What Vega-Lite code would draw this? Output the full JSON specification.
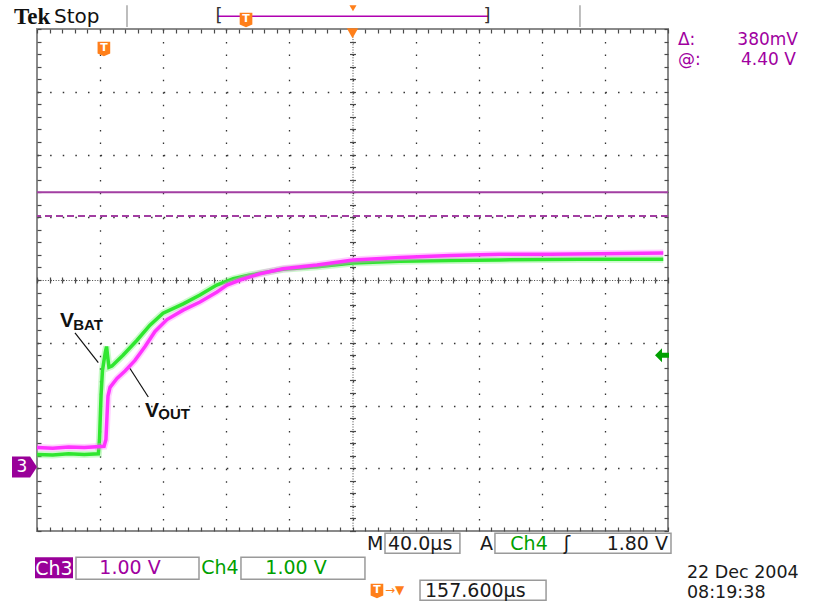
{
  "$schema": "https://vega.github.io/schema/vega-lite/v6.json",
  "width": 631,
  "height": 502,
  "autosize": "none",
  "padding": {"left": 37, "top": 29, "right": 151, "bottom": 72},
  "background": "white",
  "config": {
    "view": {"stroke": "#8a8a8a", "strokeWidth": 2},
    "axis": {"labels": false, "domain": false, "grid": false, "ticks": true, "tickColor": "#4a4a4a", "tickWidth": 1.2, "tickSize": 4}
  },
  "datasets": {
    "traces": [
      {"ch": "Ch4", "t": 0, "v": 0.22},
      {"ch": "Ch4", "t": 10, "v": 0.21},
      {"ch": "Ch4", "t": 20, "v": 0.23},
      {"ch": "Ch4", "t": 30, "v": 0.22},
      {"ch": "Ch4", "t": 38.9, "v": 0.23},
      {"ch": "Ch4", "t": 39.6, "v": 0.45},
      {"ch": "Ch4", "t": 40.6, "v": 1.16},
      {"ch": "Ch4", "t": 41.5, "v": 1.56},
      {"ch": "Ch4", "t": 42.5, "v": 1.72},
      {"ch": "Ch4", "t": 43.4, "v": 1.86},
      {"ch": "Ch4", "t": 44.1, "v": 1.94},
      {"ch": "Ch4", "t": 44.7, "v": 1.8},
      {"ch": "Ch4", "t": 45.6, "v": 1.61},
      {"ch": "Ch4", "t": 47.5, "v": 1.63},
      {"ch": "Ch4", "t": 54.5, "v": 1.8},
      {"ch": "Ch4", "t": 63.4, "v": 2.04},
      {"ch": "Ch4", "t": 71.6, "v": 2.28},
      {"ch": "Ch4", "t": 79.9, "v": 2.47},
      {"ch": "Ch4", "t": 92.7, "v": 2.62},
      {"ch": "Ch4", "t": 103.3, "v": 2.76},
      {"ch": "Ch4", "t": 113.9, "v": 2.92},
      {"ch": "Ch4", "t": 124.4, "v": 3.02},
      {"ch": "Ch4", "t": 135, "v": 3.08},
      {"ch": "Ch4", "t": 155.9, "v": 3.17},
      {"ch": "Ch4", "t": 177.5, "v": 3.21},
      {"ch": "Ch4", "t": 200.3, "v": 3.27},
      {"ch": "Ch4", "t": 230.1, "v": 3.3},
      {"ch": "Ch4", "t": 261.8, "v": 3.31},
      {"ch": "Ch4", "t": 293.5, "v": 3.32},
      {"ch": "Ch4", "t": 344.2, "v": 3.33},
      {"ch": "Ch4", "t": 397, "v": 3.33},
      {"ch": "Ch3", "t": 0, "v": 0.33},
      {"ch": "Ch3", "t": 10, "v": 0.32},
      {"ch": "Ch3", "t": 20, "v": 0.34},
      {"ch": "Ch3", "t": 30, "v": 0.33},
      {"ch": "Ch3", "t": 42.5, "v": 0.35},
      {"ch": "Ch3", "t": 43.7, "v": 0.46},
      {"ch": "Ch3", "t": 44.4, "v": 0.84},
      {"ch": "Ch3", "t": 45.0, "v": 1.15},
      {"ch": "Ch3", "t": 46.3, "v": 1.29},
      {"ch": "Ch3", "t": 50.7, "v": 1.43},
      {"ch": "Ch3", "t": 55.8, "v": 1.55},
      {"ch": "Ch3", "t": 62.1, "v": 1.72},
      {"ch": "Ch3", "t": 68.5, "v": 1.94},
      {"ch": "Ch3", "t": 74.8, "v": 2.18},
      {"ch": "Ch3", "t": 82.4, "v": 2.37},
      {"ch": "Ch3", "t": 92.6, "v": 2.52},
      {"ch": "Ch3", "t": 103.3, "v": 2.65},
      {"ch": "Ch3", "t": 114.1, "v": 2.81},
      {"ch": "Ch3", "t": 120.4, "v": 2.92},
      {"ch": "Ch3", "t": 128.7, "v": 3.0},
      {"ch": "Ch3", "t": 141.4, "v": 3.1},
      {"ch": "Ch3", "t": 155.9, "v": 3.18},
      {"ch": "Ch3", "t": 177.5, "v": 3.24},
      {"ch": "Ch3", "t": 200.3, "v": 3.32},
      {"ch": "Ch3", "t": 230.1, "v": 3.36},
      {"ch": "Ch3", "t": 261.8, "v": 3.39},
      {"ch": "Ch3", "t": 293.5, "v": 3.41},
      {"ch": "Ch3", "t": 325.2, "v": 3.41},
      {"ch": "Ch3", "t": 356.9, "v": 3.42},
      {"ch": "Ch3", "t": 397, "v": 3.43}
    ]
  },
  "resolve": {"axis": {"x": "independent", "y": "independent"}},
  "layer": [
    {
      "data": {"name": "traces"},
      "mark": {"type": "point", "opacity": 0},
      "encoding": {
        "x": {"field": "t", "type": "quantitative", "scale": {"domain": [0, 400], "nice": false, "zero": false}, "title": null,
              "axis": {"orient": "bottom", "values": [40, 80, 120, 160, 200, 240, 280, 320, 360], "grid": true, "gridDash": [1.5, 11.05], "gridColor": "#333333", "gridWidth": 1.3, "ticks": false}},
        "y": {"field": "v", "type": "quantitative", "scale": {"domain": [-1, 7], "nice": false, "zero": false}, "title": null,
              "axis": {"orient": "left", "values": [0, 1, 2, 3, 4, 5, 6], "grid": true, "gridDash": [1.5, 11.12], "gridColor": "#333333", "gridWidth": 1.3, "ticks": false}}
      }
    },
    {
      "data": {"name": "traces"},
      "mark": {"type": "point", "opacity": 0},
      "encoding": {
        "x": {"field": "t", "type": "quantitative", "scale": {"domain": [0, 400], "nice": false, "zero": false}, "title": null,
              "axis": {"orient": "top", "offset": -502, "values": [0,8,16,24,32,40,48,56,64,72,80,88,96,104,112,120,128,136,144,152,160,168,176,184,192,200,208,216,224,232,240,248,256,264,272,280,288,296,304,312,320,328,336,344,352,360,368,376,384,392,400]}},
        "y": {"field": "v", "type": "quantitative", "scale": {"domain": [-1, 7], "nice": false, "zero": false}, "title": null,
              "axis": {"orient": "right", "offset": -631, "values": [-1,-0.8,-0.6,-0.4,-0.2,0,0.2,0.4,0.6,0.8,1,1.2,1.4,1.6,1.8,2,2.2,2.4,2.6,2.8,3,3.2,3.4,3.6,3.8,4,4.2,4.4,4.6,4.8,5,5.2,5.4,5.6,5.8,6,6.2,6.4,6.6,6.8,7]}}
      }
    },
    {
      "data": {"name": "traces"},
      "mark": {"type": "point", "opacity": 0},
      "encoding": {
        "x": {"field": "t", "type": "quantitative", "scale": {"domain": [0, 400], "nice": false, "zero": false}, "title": null,
              "axis": {"orient": "bottom", "offset": -502, "values": [0,8,16,24,32,40,48,56,64,72,80,88,96,104,112,120,128,136,144,152,160,168,176,184,192,200,208,216,224,232,240,248,256,264,272,280,288,296,304,312,320,328,336,344,352,360,368,376,384,392,400]}},
        "y": {"field": "v", "type": "quantitative", "scale": {"domain": [-1, 7], "nice": false, "zero": false}, "title": null,
              "axis": {"orient": "left", "offset": -631, "values": [-1,-0.8,-0.6,-0.4,-0.2,0,0.2,0.4,0.6,0.8,1,1.2,1.4,1.6,1.8,2,2.2,2.4,2.6,2.8,3,3.2,3.4,3.6,3.8,4,4.2,4.4,4.6,4.8,5,5.2,5.4,5.6,5.8,6,6.2,6.4,6.6,6.8,7]}}
      }
    },
    {
      "data": {"name": "traces"},
      "mark": {"type": "point", "opacity": 0},
      "encoding": {
        "x": {"field": "t", "type": "quantitative", "scale": {"domain": [0, 400], "nice": false, "zero": false}, "title": null,
              "axis": {"orient": "bottom", "offset": -251, "tickSize": 3, "domain": true, "domainColor": "#444444", "domainDash": [1, 1.6], "domainWidth": 1, "values": [0,8,16,24,32,40,48,56,64,72,80,88,96,104,112,120,128,136,144,152,160,168,176,184,192,200,208,216,224,232,240,248,256,264,272,280,288,296,304,312,320,328,336,344,352,360,368,376,384,392,400]}},
        "y": {"field": "v", "type": "quantitative", "scale": {"domain": [-1, 7], "nice": false, "zero": false}, "title": null,
              "axis": {"orient": "left", "offset": -315.5, "tickSize": 3, "domain": true, "domainColor": "#444444", "domainDash": [1, 1.6], "domainWidth": 1, "values": [-1,-0.8,-0.6,-0.4,-0.2,0,0.2,0.4,0.6,0.8,1,1.2,1.4,1.6,1.8,2,2.2,2.4,2.6,2.8,3,3.2,3.4,3.6,3.8,4,4.2,4.4,4.6,4.8,5,5.2,5.4,5.6,5.8,6,6.2,6.4,6.6,6.8,7]}}
      }
    },
    {
      "data": {"name": "traces"},
      "mark": {"type": "point", "opacity": 0},
      "encoding": {
        "x": {"field": "t", "type": "quantitative", "scale": {"domain": [0, 400], "nice": false, "zero": false}, "title": null,
              "axis": {"orient": "top", "offset": -251, "tickSize": 3, "values": [0,8,16,24,32,40,48,56,64,72,80,88,96,104,112,120,128,136,144,152,160,168,176,184,192,200,208,216,224,232,240,248,256,264,272,280,288,296,304,312,320,328,336,344,352,360,368,376,384,392,400]}},
        "y": {"field": "v", "type": "quantitative", "scale": {"domain": [-1, 7], "nice": false, "zero": false}, "title": null,
              "axis": {"orient": "right", "offset": -315.5, "tickSize": 3, "values": [-1,-0.8,-0.6,-0.4,-0.2,0,0.2,0.4,0.6,0.8,1,1.2,1.4,1.6,1.8,2,2.2,2.4,2.6,2.8,3,3.2,3.4,3.6,3.8,4,4.2,4.4,4.6,4.8,5,5.2,5.4,5.6,5.8,6,6.2,6.4,6.6,6.8,7]}}
      }
    },
    {
      "data": {"values": [{"cursor": "1", "v": 4.40}, {"cursor": "2", "v": 4.02}]},
      "mark": {"type": "rule", "color": "#a23ea2", "strokeWidth": 2},
      "encoding": {
        "y": {"field": "v", "type": "quantitative", "axis": null},
        "strokeDash": {"field": "cursor", "type": "nominal", "scale": {"domain": ["1", "2"], "range": [[1, 0], [7, 4]]}, "legend": null}
      }
    },
    {
      "data": {"name": "traces"},
      "transform": [{"filter": "datum.ch == 'Ch4'"}],
      "mark": {"type": "line", "color": "#6ef26e", "strokeWidth": 7, "opacity": 0.35},
      "encoding": {"x": {"field": "t", "type": "quantitative", "axis": null}, "y": {"field": "v", "type": "quantitative", "axis": null}}
    },
    {
      "data": {"name": "traces"},
      "transform": [{"filter": "datum.ch == 'Ch4'"}],
      "mark": {"type": "line", "color": "#2fe62f", "strokeWidth": 3.5},
      "encoding": {"x": {"field": "t", "type": "quantitative", "axis": null}, "y": {"field": "v", "type": "quantitative", "axis": null}}
    },
    {
      "data": {"name": "traces"},
      "transform": [{"filter": "datum.ch == 'Ch3'"}],
      "mark": {"type": "line", "color": "#ff77ff", "strokeWidth": 7, "opacity": 0.35},
      "encoding": {"x": {"field": "t", "type": "quantitative", "axis": null}, "y": {"field": "v", "type": "quantitative", "axis": null}}
    },
    {
      "data": {"name": "traces"},
      "transform": [{"filter": "datum.ch == 'Ch3'"}],
      "mark": {"type": "line", "color": "#ff33ff", "strokeWidth": 3.5},
      "encoding": {"x": {"field": "t", "type": "quantitative", "axis": null}, "y": {"field": "v", "type": "quantitative", "axis": null}}
    },
    {
      "data": {"values": [{"t1": 24.09, "v1": 2.156, "t2": 38.86, "v2": 1.684}, {"t1": 58.95, "v1": 1.589, "t2": 70.55, "v2": 1.136}]},
      "mark": {"type": "rule", "color": "#111111", "strokeWidth": 1.2},
      "encoding": {
        "x": {"field": "t1", "type": "quantitative", "axis": null}, "x2": {"field": "t2"},
        "y": {"field": "v1", "type": "quantitative", "axis": null}, "y2": {"field": "v2"}
      }
    },
    {
      "data": {"values": [{"label": "V", "t": 14.58, "v": 2.252}, {"label": "V", "t": 68.46, "v": 0.813}]},
      "mark": {"type": "text", "font": "Liberation Sans", "fontWeight": "bold", "fontSize": 21, "color": "#111111", "align": "left", "baseline": "alphabetic"},
      "encoding": {"x": {"field": "t", "type": "quantitative", "axis": null}, "y": {"field": "v", "type": "quantitative", "axis": null}, "text": {"field": "label"}}
    },
    {
      "data": {"values": [{"label": "BAT", "t": 23.0, "v": 2.199}, {"label": "OUT", "t": 76.9, "v": 0.781}]},
      "mark": {"type": "text", "font": "Liberation Sans", "fontWeight": "bold", "fontSize": 15, "color": "#111111", "align": "left", "baseline": "alphabetic"},
      "encoding": {"x": {"field": "t", "type": "quantitative", "axis": null}, "y": {"field": "v", "type": "quantitative", "axis": null}, "text": {"field": "label"}}
    },
    {
      "data": {"values": [{"marker": "Ch3 ground", "t": -7.92, "v": 0.02}]},
      "mark": {"type": "point", "shape": "M-1,-0.84L0.45,-0.84L1,0L0.45,0.84L-1,0.84Z", "filled": true, "size": 625, "color": "#990099", "opacity": 1},
      "encoding": {"x": {"field": "t", "type": "quantitative", "axis": null}, "y": {"field": "v", "type": "quantitative", "axis": null}}
    },
    {
      "data": {"values": [{"label": "3", "t": -9.5, "v": 0.016}]},
      "mark": {"type": "text", "font": "DejaVu Sans", "fontSize": 17, "color": "white", "align": "center", "baseline": "middle"},
      "encoding": {"x": {"field": "t", "type": "quantitative", "axis": null}, "y": {"field": "v", "type": "quantitative", "axis": null}, "text": {"field": "label"}}
    },
    {
      "data": {"values": [{"marker": "Ch4 trigger level", "t": 396.2, "v": 1.8}]},
      "mark": {"type": "point", "shape": "M-1,0L0,-1L0,-0.35L1,-0.35L1,0.35L0,0.35L0,1Z", "filled": true, "size": 196, "color": "#00a000", "opacity": 1},
      "encoding": {"x": {"field": "t", "type": "quantitative", "axis": null}, "y": {"field": "v", "type": "quantitative", "axis": null}}
    },
    {
      "data": {"values": [{"marker": "position", "t": 200, "v": 6.932}]},
      "mark": {"type": "point", "shape": "triangle-down", "filled": true, "size": 130, "color": "#ff7f1a", "opacity": 1},
      "encoding": {"x": {"field": "t", "type": "quantitative", "axis": null}, "y": {"field": "v", "type": "quantitative", "axis": null}}
    },
    {
      "data": {"values": [{"marker": "position bar", "t": 200.3, "v": 7.331}]},
      "mark": {"type": "point", "shape": "triangle-down", "filled": true, "size": 50, "color": "#ff7f1a", "opacity": 1},
      "encoding": {"x": {"field": "t", "type": "quantitative", "axis": null}, "y": {"field": "v", "type": "quantitative", "axis": null}}
    },
    {
      "data": {"values": [{"t1": 114.7, "t2": 285.9, "v": 7.203}]},
      "mark": {"type": "rule", "color": "#b000b0", "strokeWidth": 1.5},
      "encoding": {"x": {"field": "t1", "type": "quantitative", "axis": null}, "x2": {"field": "t2"}, "y": {"field": "v", "type": "quantitative", "axis": null}}
    },
    {
      "data": {"values": [{"t": 57.05, "v1": 7.38, "v2": 7.03}, {"t": 344.2, "v1": 7.38, "v2": 7.03}]},
      "mark": {"type": "rule", "color": "#a8a8a8", "strokeWidth": 1.5},
      "encoding": {"x": {"field": "t", "type": "quantitative", "axis": null}, "y": {"field": "v1", "type": "quantitative", "axis": null}, "y2": {"field": "v2"}}
    },
    {
      "data": {"values": [{"label": "[", "t": 115.4, "v": 7.203}, {"label": "]", "t": 285.3, "v": 7.203}]},
      "mark": {"type": "text", "font": "DejaVu Sans", "fontSize": 18, "color": "#333333", "align": "center", "baseline": "middle"},
      "encoding": {"x": {"field": "t", "type": "quantitative", "axis": null}, "y": {"field": "v", "type": "quantitative", "axis": null}, "text": {"field": "label"}}
    },
    {
      "data": {"values": [{"marker": "trigger", "t": 42.4, "v": 6.685}, {"marker": "trigger bar", "t": 132.5, "v": 7.147}, {"marker": "trigger readout", "t": 215.5, "v": -1.952}]},
      "mark": {"type": "point", "shape": "M-1,-1.1L1,-1.1L1,0.75L0,1.2L-1,0.75Z", "filled": true, "size": 160, "color": "#ff7f1a", "opacity": 1},
      "encoding": {"x": {"field": "t", "type": "quantitative", "axis": null}, "y": {"field": "v", "type": "quantitative", "axis": null}}
    },
    {
      "data": {"values": [{"label": "T", "t": 42.4, "v": 6.7}, {"label": "T", "t": 132.5, "v": 7.16}, {"label": "T", "t": 215.5, "v": -1.94}]},
      "mark": {"type": "text", "font": "DejaVu Sans", "fontWeight": "bold", "fontSize": 11, "color": "white", "align": "center", "baseline": "middle"},
      "encoding": {"x": {"field": "t", "type": "quantitative", "axis": null}, "y": {"field": "v", "type": "quantitative", "axis": null}, "text": {"field": "label"}}
    },
    {
      "data": {"values": [{"label": "→▼", "t": 220.6, "v": -1.944}]},
      "mark": {"type": "text", "font": "DejaVu Sans", "fontSize": 12, "color": "#ff7f1a", "align": "left", "baseline": "middle"},
      "encoding": {"x": {"field": "t", "type": "quantitative", "axis": null}, "y": {"field": "v", "type": "quantitative", "axis": null}, "text": {"field": "label"}}
    },
    {
      "data": {"values": [{"label": "Tek", "t": -14.6, "v": 7.076}]},
      "mark": {"type": "text", "font": "Liberation Serif", "fontWeight": "bold", "fontSize": 23, "color": "#111111", "align": "left", "baseline": "alphabetic"},
      "encoding": {"x": {"field": "t", "type": "quantitative", "axis": null}, "y": {"field": "v", "type": "quantitative", "axis": null}, "text": {"field": "label"}}
    },
    {
      "data": {"values": [{"label": "Stop", "t": 10.8, "v": 7.09}]},
      "mark": {"type": "text", "font": "DejaVu Sans", "fontSize": 20, "color": "#111111", "align": "left", "baseline": "alphabetic"},
      "encoding": {"x": {"field": "t", "type": "quantitative", "axis": null}, "y": {"field": "v", "type": "quantitative", "axis": null}, "text": {"field": "label"}}
    },
    {
      "data": {"values": [{"label": "Δ:", "t": 406.3, "v": 6.741}, {"label": "@:", "t": 406.3, "v": 6.422}]},
      "mark": {"type": "text", "font": "DejaVu Sans", "fontSize": 17, "color": "#a000a0", "align": "left", "baseline": "alphabetic"},
      "encoding": {"x": {"field": "t", "type": "quantitative", "axis": null}, "y": {"field": "v", "type": "quantitative", "axis": null}, "text": {"field": "label"}}
    },
    {
      "data": {"values": [{"label": "380mV", "t": 482.4, "v": 6.741}, {"label": "4.40 V", "t": 481.1, "v": 6.422}]},
      "mark": {"type": "text", "font": "DejaVu Sans", "fontSize": 17, "color": "#a000a0", "align": "right", "baseline": "alphabetic"},
      "encoding": {"x": {"field": "t", "type": "quantitative", "axis": null}, "y": {"field": "v", "type": "quantitative", "axis": null}, "text": {"field": "label"}}
    },
    {
      "data": {"values": [
        {"box": "M", "t1": 220.6, "t2": 268.1, "v1": -1.036, "v2": -1.355},
        {"box": "A", "t1": 290.3, "t2": 401.9, "v1": -1.036, "v2": -1.355},
        {"box": "Ch3", "t1": 24.72, "t2": 102.69, "v1": -1.418, "v2": -1.769},
        {"box": "Ch4", "t1": 129.3, "t2": 207.9, "v1": -1.418, "v2": -1.769},
        {"box": "T", "t1": 242.8, "t2": 322.7, "v1": -1.785, "v2": -2.104}
      ]},
      "mark": {"type": "rect", "fill": "white", "stroke": "#9a9a9a", "strokeWidth": 1.5},
      "encoding": {
        "x": {"field": "t1", "type": "quantitative", "axis": null}, "x2": {"field": "t2"},
        "y": {"field": "v1", "type": "quantitative", "axis": null}, "y2": {"field": "v2"}
      }
    },
    {
      "data": {"values": [{"box": "Ch3 label", "t1": -1.27, "t2": 22.82, "v1": -1.418, "v2": -1.753}]},
      "mark": {"type": "rect", "fill": "#990099"},
      "encoding": {
        "x": {"field": "t1", "type": "quantitative", "axis": null}, "x2": {"field": "t2"},
        "y": {"field": "v1", "type": "quantitative", "axis": null}, "y2": {"field": "v2"}
      }
    },
    {
      "data": {"values": [{"label": "Ch3", "t": 10.78, "v": -1.705}]},
      "mark": {"type": "text", "font": "DejaVu Sans", "fontSize": 19, "color": "white", "align": "center", "baseline": "alphabetic"},
      "encoding": {"x": {"field": "t", "type": "quantitative", "axis": null}, "y": {"field": "v", "type": "quantitative", "axis": null}, "text": {"field": "label"}}
    },
    {
      "data": {"values": [{"label": "1.00 V", "t": 58.95, "v": -1.689}]},
      "mark": {"type": "text", "font": "DejaVu Sans", "fontSize": 19, "color": "#a000a0", "align": "center", "baseline": "alphabetic"},
      "encoding": {"x": {"field": "t", "type": "quantitative", "axis": null}, "y": {"field": "v", "type": "quantitative", "axis": null}, "text": {"field": "label"}}
    },
    {
      "data": {"values": [{"label": "Ch4", "t": 116.0, "v": -1.689}, {"label": "1.00 V", "t": 164.2, "v": -1.689}, {"label": "Ch4", "t": 311.9, "v": -1.307}]},
      "mark": {"type": "text", "font": "DejaVu Sans", "fontSize": 19, "color": "#00a000", "align": "center", "baseline": "alphabetic"},
      "encoding": {"x": {"field": "t", "type": "quantitative", "axis": null}, "y": {"field": "v", "type": "quantitative", "axis": null}, "text": {"field": "label"}}
    },
    {
      "data": {"values": [
        {"label": "M", "t": 209.2, "v": -1.307},
        {"label": "40.0µs", "t": 222.5, "v": -1.307},
        {"label": "A", "t": 280.8, "v": -1.307},
        {"label": "157.600µs", "t": 245.96, "v": -2.056}
      ]},
      "mark": {"type": "text", "font": "DejaVu Sans", "fontSize": 19, "color": "#1a1a1a", "align": "left", "baseline": "alphabetic"},
      "encoding": {"x": {"field": "t", "type": "quantitative", "axis": null}, "y": {"field": "v", "type": "quantitative", "axis": null}, "text": {"field": "label"}}
    },
    {
      "data": {"values": [
        {"label": "22 Dec  2004", "t": 412.0, "v": -1.75},
        {"label": "08:19:38", "t": 412.0, "v": -2.06}
      ]},
      "mark": {"type": "text", "font": "DejaVu Sans", "fontSize": 17.5, "color": "#1a1a1a", "align": "left", "baseline": "alphabetic"},
      "encoding": {"x": {"field": "t", "type": "quantitative", "axis": null}, "y": {"field": "v", "type": "quantitative", "axis": null}, "text": {"field": "label"}}
    },
    {
      "data": {"values": [{"label": "ʃ", "t": 336.0, "v": -1.307}]},
      "mark": {"type": "text", "font": "DejaVu Sans", "fontSize": 19, "color": "#1a1a1a", "align": "center", "baseline": "alphabetic"},
      "encoding": {"x": {"field": "t", "type": "quantitative", "axis": null}, "y": {"field": "v", "type": "quantitative", "axis": null}, "text": {"field": "label"}}
    },
    {
      "data": {"values": [{"label": "1.80 V", "t": 400.0, "v": -1.307}]},
      "mark": {"type": "text", "font": "DejaVu Sans", "fontSize": 19, "color": "#1a1a1a", "align": "right", "baseline": "alphabetic"},
      "encoding": {"x": {"field": "t", "type": "quantitative", "axis": null}, "y": {"field": "v", "type": "quantitative", "axis": null}, "text": {"field": "label"}}
    }
  ]
}
